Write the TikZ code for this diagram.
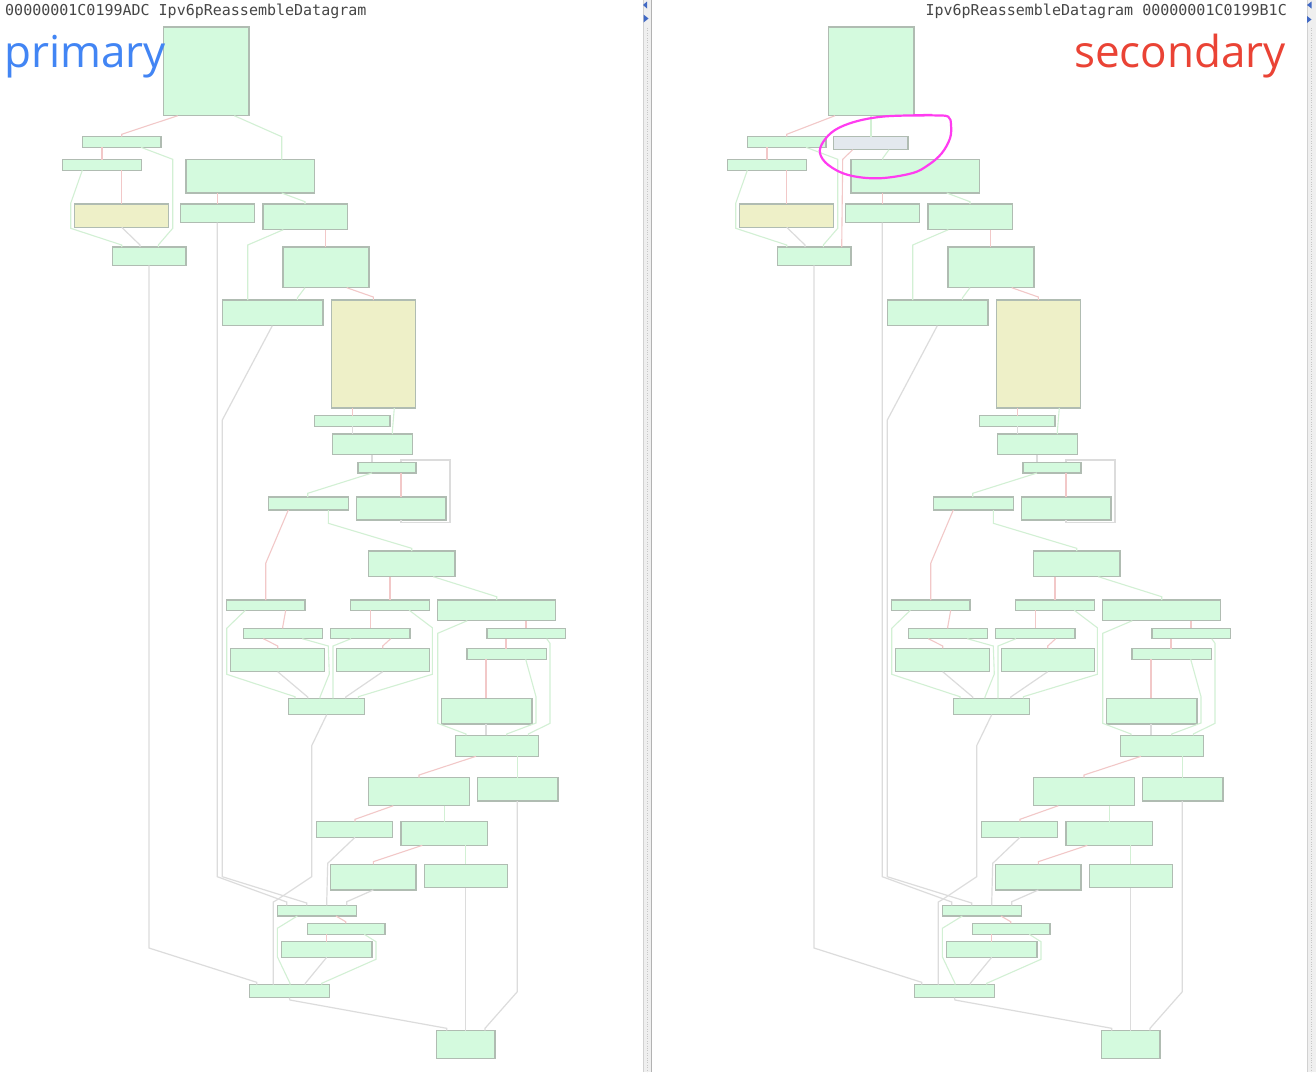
\documentclass[tikz,border=0pt]{standalone}
\usepackage{fontspec}
\newfontfamily\monof{DejaVu Sans Mono}
\newfontfamily\labf{Open Sans}
\definecolor{gfill}{HTML}{D4FADE}
\definecolor{yfill}{HTML}{EEF0C8}
\definecolor{sfill}{HTML}{E3E8EE}
\definecolor{bord}{HTML}{B0BCB2}
\definecolor{redge}{HTML}{F2C8C8}
\definecolor{gedge}{HTML}{D2F0D4}
\definecolor{nedge}{HTML}{DCDCDC}
\definecolor{titlec}{HTML}{464646}
\definecolor{gblue}{HTML}{4285F4}
\definecolor{gred}{HTML}{EA4335}
\definecolor{marker}{HTML}{FF3CF0}
\definecolor{stripc}{HTML}{EFEFEF}
\definecolor{arrowc}{HTML}{4169C4}
\tikzset{
  box/.style={draw=bord, line width=1.2pt, inner sep=0pt, outer sep=0pt},
  gbox/.style={box, fill=gfill},
  ybox/.style={box, fill=yfill},
  sbox/.style={box, fill=sfill},
  re/.style={draw=redge, line width=1.1pt},
  ge/.style={draw=gedge, line width=1.1pt},
  ne/.style={draw=nedge, line width=1.2pt},
}
\newcommand\bx[6]{\node[#2,anchor=north west,minimum width={(#5)-(#3)},minimum height={(#6)-(#4)}] (#1) at (#3,#4) {};}
\newcommand\cfg[1]{%
  \bx{#1B1}{gbox}{163.3}{27}{249}{115.7}
  \bx{#1B2}{gbox}{82.3}{136.7}{161}{147.3}
  \bx{#1B3}{gbox}{62.3}{159.7}{141.3}{170.3}
  \bx{#1B4}{gbox}{186}{159.7}{314.3}{193}
  \bx{#1B5}{ybox}{74.3}{204}{168.7}{227.3}
  \bx{#1B6}{gbox}{180.7}{204}{254.7}{222.7}
  \bx{#1B7}{gbox}{263}{204}{347.3}{229.7}
  \bx{#1B8}{gbox}{112.7}{247}{186}{265.3}
  \bx{#1B9}{gbox}{283}{247}{369}{287.7}
  \bx{#1B10}{gbox}{222.3}{300}{323}{325.7}
  \bx{#1B11}{ybox}{331.7}{300}{415.7}{408}
  \bx{#1B12}{gbox}{314.7}{415.7}{390}{426.3}
  \bx{#1B13}{gbox}{332.3}{434}{412.7}{454.7}
  \bx{#1B14}{gbox}{358}{462.3}{416}{473}
  \bx{#1B15}{gbox}{268.3}{497}{348.3}{510}
  \bx{#1B16}{gbox}{356.7}{497}{446}{520}
  \bx{#1B17}{gbox}{368.3}{551}{455}{576.7}
  \bx{#1B18}{gbox}{226.3}{600}{305}{610.3}
  \bx{#1B19}{gbox}{350.7}{600}{429.7}{610.3}
  \bx{#1B20}{gbox}{437.7}{600}{555.7}{620.7}
  \bx{#1B21}{gbox}{243.7}{628.3}{322.7}{638.7}
  \bx{#1B22}{gbox}{330.7}{628.3}{410}{638.7}
  \bx{#1B23}{gbox}{487}{628.3}{565.7}{638.7}
  \bx{#1B24}{gbox}{230.3}{648.3}{324.7}{671.7}
  \bx{#1B25}{gbox}{336.7}{648.3}{429.3}{671.7}
  \bx{#1B26}{gbox}{467}{648.7}{546.3}{659.3}
  \bx{#1B27}{gbox}{288.7}{698.3}{364.7}{714.7}
  \bx{#1B28}{gbox}{441.3}{698.3}{532}{724}
  \bx{#1B29}{gbox}{455.7}{735.3}{538.7}{756.3}
  \bx{#1B30}{gbox}{368.3}{777.7}{469.3}{805.7}
  \bx{#1B31}{gbox}{477.7}{777.7}{558}{801}
  \bx{#1B32}{gbox}{316.7}{821.7}{392.7}{837.3}
  \bx{#1B33}{gbox}{401}{821.7}{487.7}{845.3}
  \bx{#1B34}{gbox}{330.7}{864.3}{416}{890}
  \bx{#1B35}{gbox}{424.3}{864.3}{507.3}{887.7}
  \bx{#1B36}{gbox}{277.3}{905.3}{356.3}{916}
  \bx{#1B37}{gbox}{307.3}{923.3}{385}{934.3}
  \bx{#1B38}{gbox}{281.7}{941.7}{372}{957.3}
  \bx{#1B39}{gbox}{249.3}{984.7}{329.7}{997.7}
  \bx{#1B40}{gbox}{436.7}{1030.7}{495}{1058.7}
  % edges
  \draw[re] (#1B2.south -| 102,0) -- (#1B3.north -| 102,0);
  \draw[ge] (#1B2.south -| 141,0) -- (172.7,159.3) -- (172.7,228.3) -- (158.3,245) -- (#1B8.north -| 158.3,0);
  \draw[ge] (#1B3.south -| 82.3,0) -- (70.7,203.3) -- (70.7,228.3) -- (121.7,245) -- (#1B8.north -| 121.7,0);
  \draw[re] (#1B3.south -| 121.7,0) -- (#1B5.north -| 121.7,0);
  \draw[ne] (#1B5.south -| 121.7,0) -- (140,245) -- (#1B8.north -| 140,0);
  \draw[re] (#1B4.south -| 217.7,0) -- (#1B6.north -| 217.7,0);
  \draw[ge] (#1B4.south -| 281.7,0) -- (305,201.7) -- (#1B7.north -| 305,0);
  \draw[ne] (#1B6.south -| 217.3,0) -- (217.3,876.7) -- (286.7,902) -- (#1B36.north -| 286.7,0);
  \draw[ge] (#1B7.south -| 283.3,0) -- (247.7,245) -- (#1B10.north -| 247.7,0);
  \draw[re] (#1B7.south -| 325.7,0) -- (#1B9.north -| 325.7,0);
  \draw[ne] (#1B8.south -| 149,0) -- (149,948) -- (256.7,982.3) -- (#1B39.north -| 256.7,0);
  \draw[ge] (#1B9.south -| 305,0) -- (297.3,298) -- (#1B10.north -| 297.3,0);
  \draw[re] (#1B9.south -| 346.7,0) -- (373.3,297) -- (#1B11.north -| 373.3,0);
  \draw[ne] (#1B10.south -| 272.3,0) -- (222.3,420) -- (222.3,876.7) -- (306.7,903) -- (#1B36.north -| 306.7,0);
  \draw[re] (#1B11.south -| 352.3,0) -- (#1B12.north -| 352.3,0);
  \draw[ge] (#1B11.south -| 394.3,0) -- (392.3,432) -- (#1B13.north -| 392.3,0);
  \draw[ne] (#1B12.south -| 352.3,0) -- (#1B13.north -| 352.3,0);
  \draw[ne] (#1B13.south -| 372,0) -- (#1B14.north -| 372,0);
  \draw[ge] (#1B14.south -| 372,0) -- (307.7,493.3) -- (#1B15.north -| 307.7,0);
  \draw[re] (#1B14.south -| 401,0) -- (#1B16.north -| 401,0);
  \draw[ne] (#1B16.south -| 401,0) -- (401,522.5) -- (450,522.5) -- (450,460) -- (401,460) -- (#1B14.north -| 401,0);
  \draw[re] (#1B15.south -| 288.3,0) -- (265.7,563.3) -- (#1B18.north -| 265.7,0);
  \draw[ge] (#1B15.south -| 328.3,0) -- (328.3,523.3) -- (411.7,548.3) -- (#1B17.north -| 411.7,0);
  \draw[re] (#1B17.south -| 390,0) -- (#1B19.north -| 390,0);
  \draw[ge] (#1B17.south -| 433.3,0) -- (496.7,596.7) -- (#1B20.north -| 496.7,0);
  \draw[ge] (#1B18.south -| 245.3,0) -- (226.7,628.3) -- (226.7,674.3) -- (295,696.7) -- (#1B27.north -| 295,0);
  \draw[re] (#1B18.south -| 285.7,0) -- (282.7,627) -- (#1B21.north -| 282.7,0);
  \draw[re] (#1B21.south -| 263.3,0) -- (277.7,646) -- (#1B24.north -| 277.7,0);
  \draw[ge] (#1B21.south -| 302.3,0) -- (328.3,646) -- (329.3,674) -- (320,697) -- (#1B27.north -| 320,0);
  \draw[ne] (#1B24.south -| 277.7,0) -- (307.7,697) -- (#1B27.north -| 307.7,0);
  \draw[re] (#1B19.south -| 370.7,0) -- (#1B22.north -| 370.7,0);
  \draw[ge] (#1B19.south -| 409.3,0) -- (432.3,627.7) -- (432.3,674.3) -- (358.3,696.7) -- (#1B27.north -| 358.3,0);
  \draw[ge] (#1B22.south -| 351,0) -- (333,646) -- (#1B27.north -| 333,0);
  \draw[re] (#1B22.south -| 390.7,0) -- (382.7,646) -- (#1B25.north -| 382.7,0);
  \draw[ne] (#1B25.south -| 382.7,0) -- (345.7,697) -- (#1B27.north -| 345.7,0);
  \draw[ge] (#1B20.south -| 467.3,0) -- (437.7,633.3) -- (437.7,723.3) -- (466,734) -- (#1B29.north -| 466,0);
  \draw[re] (#1B20.south -| 526,0) -- (#1B23.north -| 526,0);
  \draw[re] (#1B23.south -| 506,0) -- (#1B26.north -| 506,0);
  \draw[ge] (#1B23.south -| 546.7,0) -- (550,643.3) -- (550,723.3) -- (528.3,734) -- (#1B29.north -| 528.3,0);
  \draw[re] (#1B26.south -| 486,0) -- (#1B28.north -| 486,0);
  \draw[ge] (#1B26.south -| 525.7,0) -- (536,696.7) -- (536,723) -- (506.7,734) -- (#1B29.north -| 506.7,0);
  \draw[ne] (#1B28.south -| 486,0) -- (#1B29.north -| 486,0);
  \draw[ne] (#1B27.south -| 326.7,0) -- (311.7,745.7) -- (311.7,876.7) -- (276.7,900) -- (273.3,902) -- (#1B39.north -| 273.3,0);
  \draw[re] (#1B29.south -| 476,0) -- (419,775) -- (#1B30.north -| 419,0);
  \draw[ge] (#1B29.south -| 517.7,0) -- (#1B31.north -| 517.7,0);
  \draw[re] (#1B30.south -| 393.3,0) -- (355,819.3) -- (#1B32.north -| 355,0);
  \draw[ge] (#1B30.south -| 444.3,0) -- (#1B33.north -| 444.3,0);
  \draw[ne] (#1B31.south -| 517.3,0) -- (517.3,991.7) -- (485,1028.3) -- (#1B40.north -| 485,0);
  \draw[ne] (#1B32.south -| 355,0) -- (327.7,863.3) -- (326.7,903) -- (#1B36.north -| 326.7,0);
  \draw[re] (#1B33.south -| 422.3,0) -- (373.3,861.7) -- (#1B34.north -| 373.3,0);
  \draw[ge] (#1B33.south -| 465.7,0) -- (#1B35.north -| 465.7,0);
  \draw[ne] (#1B34.south -| 373.3,0) -- (346.7,901.7) -- (#1B36.north -| 346.7,0);
  \draw[ne] (#1B35.south -| 465.7,0) -- (#1B40.north -| 465.7,0);
  \draw[ge] (#1B36.south -| 297.3,0) -- (277.3,928.3) -- (277.3,956.7) -- (290,983.3) -- (#1B39.north -| 290,0);
  \draw[re] (#1B36.south -| 336,0) -- (345.7,921.7) -- (#1B37.north -| 345.7,0);
  \draw[re] (#1B37.south -| 326.7,0) -- (#1B38.north -| 326.7,0);
  \draw[ge] (#1B37.south -| 364.3,0) -- (376,941.7) -- (376,959.3) -- (321.7,983.3) -- (#1B39.north -| 321.7,0);
  \draw[ne] (#1B38.south -| 326.7,0) -- (305.3,983.3) -- (#1B39.north -| 305.3,0);
  \draw[ne] (#1B39.south -| 289.3,0) -- (290,1000) -- (446.7,1028.3) -- (#1B40.north -| 446.7,0);
}
\begin{document}
\begin{tikzpicture}[x=1pt,y=-1pt]
  \useasboundingbox[fill=white] (0,0) rectangle (1316,1072);
  % primary graph
  \cfg{L}
  \draw[re] (LB1.south -| 177.7,0) -- (121.7,134.3) -- (LB2.north -| 121.7,0);
  \draw[ge] (LB1.south -| 234.3,0) -- (281.7,136.7) -- (LB4.north -| 281.7,0);
  % secondary graph
  \begin{scope}[xshift=665pt]
    \cfg{R}
    \bx{RG}{sbox}{168.3}{136.7}{243}{149.7}
    \draw[re] (RB1.south -| 170,0) -- (121.7,134.3) -- (RB2.north -| 121.7,0);
    \draw[ge] (RB1.south -| 206,0) -- (RG.north -| 206,0);
    \draw[re] (RG.south -| 187.7,0) -- (177.7,159.3) -- (176.7,246.7) -- (RB8.north -| 176.7,0);
    \draw[ge] (RG.south -| 224,0) -- (217.7,158.3) -- (RB4.north -| 217.7,0);
  \end{scope}
  % hand-drawn marker loop
  \draw[marker, line width=2.2pt, line cap=round]
    plot[smooth, tension=0.6] coordinates {(912,115.6) (935,115.4) (948.3,116.7) (951,125) (950,138.3) (941.7,153.3) (928.3,165) (911.7,173.3) (878.3,178.3) (848.3,175) (828.3,165) (820,153.3) (823.3,141.7) (835,130) (855,121.7) (881.7,116.7) (915,115.3) (932,115)};
  % separator strips
  \fill[stripc] (643.3,0) rectangle (651.7,1072);
  \draw[black!18, line width=0.6pt] (643.5,0) -- (643.5,1072);
  \draw[black!30, line width=1pt] (651.5,0) -- (651.5,1072);
  \draw[black!22, line width=1pt, dash pattern=on 0.8pt off 1.6pt] (647.5,28) -- (647.5,1072);
  \fill[arrowc] (643,5) -- (647,1.5) -- (647,8.5) -- cycle;
  \fill[arrowc] (648.5,18.5) -- (643.5,14.5) -- (643.5,22.5) -- cycle;
  \fill[stripc] (1306.7,0) rectangle (1316,1072);
  \draw[black!18, line width=0.6pt] (1306.9,0) -- (1306.9,1072);
  \draw[black!22, line width=1pt, dash pattern=on 0.8pt off 1.6pt] (1311,28) -- (1311,1072);
  \fill[arrowc] (1307,5) -- (1311.5,1.5) -- (1311.5,8.5) -- cycle;
  \fill[arrowc] (1311.5,19.5) -- (1307,16) -- (1307,23) -- cycle;
  % titles
  \node[anchor=base west, inner sep=0pt, text=titlec, font=\monof\fontsize{15}{15}\selectfont] (tl) at (5,15.5) {00000001C0199ADC Ipv6pReassembleDatagram};
  \node[anchor=base east, inner sep=0pt, text=titlec, font=\monof\fontsize{15}{15}\selectfont] (tr) at (1287,15.5) {Ipv6pReassembleDatagram 00000001C0199B1C};
  \node[anchor=base west, inner sep=0pt, text=gblue, font=\labf\fontsize{44}{44}\selectfont] (lp) at (4,67) {primary};
  \node[anchor=base east, inner sep=0pt, text=gred, font=\labf\fontsize{44}{44}\selectfont] (ls) at (1286,67) {secondary};
\end{tikzpicture}
\end{document}
